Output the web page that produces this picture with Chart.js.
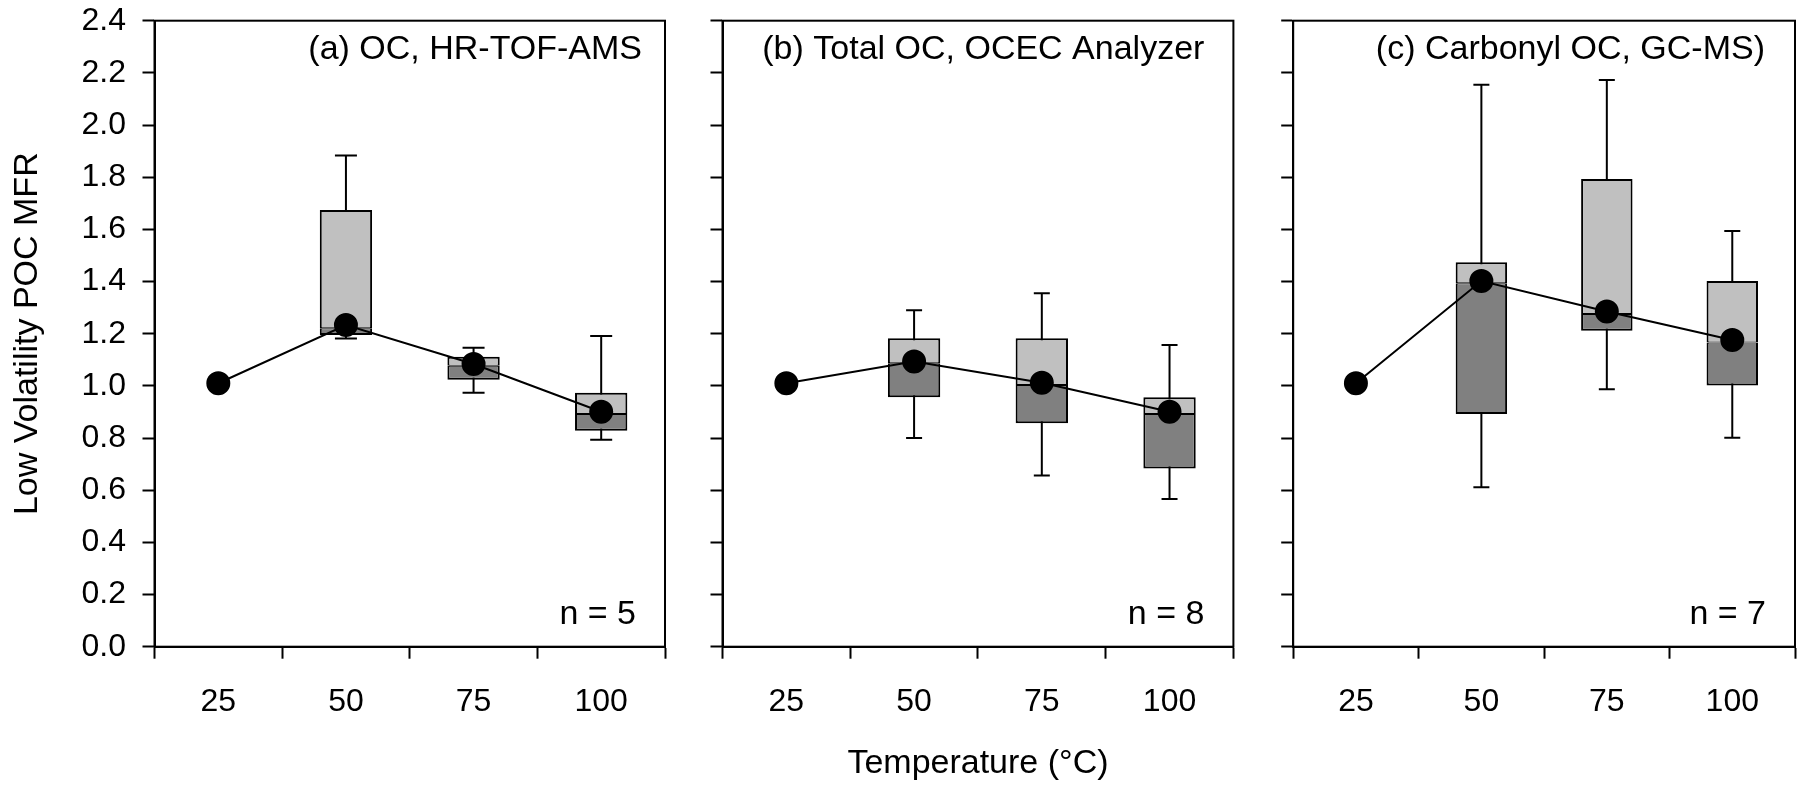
<!DOCTYPE html>
<html>
<head>
<meta charset="utf-8">
<title>Low Volatility POC MFR</title>
<script src="https://cdn.jsdelivr.net/npm/chart.js@4.4.1/dist/chart.umd.min.js"></script>
<style>
  body { margin: 0; background: #fff; }
  #wrap { position: relative; width: 1808px; height: 786px; }
  #wrap canvas { position: absolute; top: 0; }
</style>
</head>
<body>
<div id="wrap">
  <canvas id="panelA" width="694" height="786" style="left:0px"></canvas>
  <canvas id="panelB" width="568" height="786" style="left:694px"></canvas>
  <canvas id="panelC" width="546" height="786" style="left:1262px"></canvas>
</div>
<script>
const temps = ['25', '50', '75', '100'];
const panelTitles = ['(a) OC, HR-TOF-AMS', '(b) Total OC, OCEC Analyzer', '(c) Carbonyl OC, GC-MS)'];
const sampleSizes = ['n = 5', 'n = 8', 'n = 7'];

// (a) OC, HR-TOF-AMS
const amsMean = [1.01, 1.233, 1.084, 0.901];
const amsMin = [null, 1.182, 0.974, 0.793];
const amsQ1 = [null, 1.195, 1.023, 0.828];
const amsMedian = [null, 1.221, 1.077, 0.892];
const amsQ3 = [null, 1.674, 1.112, 0.974];
const amsMax = [null, 1.883, 1.146, 1.191];

// (b) Total OC, OCEC analyzer
const ocecMean = [1.01, 1.093, 1.012, 0.901];
const ocecMin = [null, 0.80, 0.656, 0.566];
const ocecQ1 = [null, 0.956, 0.857, 0.683];
const ocecMedian = [null, 1.087, 1.003, 0.892];
const ocecQ3 = [null, 1.183, 1.183, 0.956];
const ocecMax = [null, 1.29, 1.355, 1.157];

// (c) Carbonyl OC, GC-MS
const gcmsMean = [1.01, 1.402, 1.285, 1.176];
const gcmsMin = [null, 0.611, 0.987, 0.801];
const gcmsQ1 = [null, 0.892, 1.211, 1.001];
const gcmsMedian = [null, 1.393, 1.276, 1.166];
const gcmsQ3 = [null, 1.474, 1.793, 1.402];
const gcmsMax = [null, 2.154, 2.173, 1.594];

Chart.defaults.font.family = '"Liberation Sans", Arial, sans-serif';
Chart.defaults.color = '#000';

// marco del panel + textos dentro del área
const panelText = {
    id: 'panelText',
    afterDraw(chart, args, opts) {
        const {ctx, chartArea: a} = chart;
        ctx.save();
        ctx.strokeStyle = '#000';
        ctx.lineWidth = 2;
        ctx.strokeRect(a.left, a.top, a.right - a.left, a.bottom - a.top);
        ctx.fillStyle = '#000';
        ctx.font = '34px "Liberation Sans", Arial, sans-serif';
        ctx.textAlign = 'right';
        ctx.textBaseline = 'alphabetic';
        ctx.fillText(opts.title, a.right - opts.titleGap, a.top + 38.6);
        ctx.fillText(opts.n, a.right - 29, a.bottom - 22.4);
        ctx.restore();
    }
};

function boxDatasets(mean, min, q1, med, q3, max, capRadius) {
    const sets = [];
    sets.push({
        type: 'line',
        data: mean,
        borderColor: '#000',
        borderWidth: 2,
        pointRadius: 11,
        pointHoverRadius: 11,
        pointBackgroundColor: '#000',
        pointBorderColor: '#000',
        order: 0
    });
    sets.push({
        type: 'bar',
        data: temps.map((t, i) => q3[i] == null ? null : [med[i], q3[i]]),
        backgroundColor: '#c0c0c0',
        borderColor: '#000',
        borderWidth: {top: 2, left: 2, right: 2, bottom: 1},
        borderSkipped: false,
        grouped: false,
        barPercentage: 0.41,
        categoryPercentage: 1,
        order: 1
    });
    sets.push({
        type: 'bar',
        data: temps.map((t, i) => q1[i] == null ? null : [q1[i], med[i]]),
        backgroundColor: '#808080',
        borderColor: '#000',
        borderWidth: {top: 1, left: 2, right: 2, bottom: 2},
        borderSkipped: false,
        grouped: false,
        barPercentage: 0.41,
        categoryPercentage: 1,
        order: 2
    });
    const caps = [];
    temps.forEach((t, i) => {
        if (min[i] == null) return;
        sets.push({
            type: 'line',
            data: [{x: t, y: min[i]}, {x: t, y: max[i]}],
            borderColor: '#000',
            borderWidth: 2,
            pointRadius: 0,
            order: 3
        });
        caps.push({x: t, y: min[i]}, {x: t, y: max[i]});
    });
    sets.push({
        type: 'line',
        data: caps,
        showLine: false,
        pointStyle: 'line',
        pointRadius: capRadius,
        pointHoverRadius: capRadius,
        pointBorderColor: '#000',
        pointBorderWidth: 2,
        order: 3
    });
    return sets;
}

function makePanel(id, idx, sets, cfg) {
    return new Chart(document.getElementById(id), {
        type: 'bar',
        data: {labels: temps, datasets: sets},
        options: {
            responsive: false,
            animation: false,
            events: [],
            layout: {padding: {left: 0, right: cfg.padRight, top: 20.7, bottom: 0}},
            plugins: {
                legend: {display: false},
                tooltip: {enabled: false},
                panelText: {title: panelTitles[idx], n: sampleSizes[idx], titleGap: cfg.titleGap}
            },
            scales: {
                x: {
                    type: 'category',
                    offset: true,
                    grid: {display: true, offset: true, drawOnChartArea: false, drawTicks: true,
                        tickLength: 12, tickWidth: 2, tickColor: '#000'},
                    border: {display: true, color: '#000', width: 2},
                    ticks: {color: '#000', font: {size: 32}, padding: 24, maxRotation: 0},
                    title: {display: cfg.xTitle, text: 'Temperature (°C)', color: '#000',
                        font: {size: 34}, padding: {top: 0, bottom: 2}},
                    afterFit: s => { s.height = 139.3; }
                },
                y: {
                    min: 0,
                    max: 2.4,
                    grid: {drawOnChartArea: false, drawTicks: true, tickLength: 12, tickWidth: 2, tickColor: '#000'},
                    border: {display: true, color: '#000', width: 2},
                    ticks: {display: cfg.yLabels, stepSize: 0.2, color: '#000', font: {size: 32}, padding: 16.5,
                        callback: v => Number(v).toFixed(1)},
                    title: {display: cfg.yLabels, text: 'Low Volatility POC MFR', color: '#000',
                        font: {size: 34}, padding: {top: 7, bottom: 0}},
                    afterFit: s => {
                        s.width = cfg.yWidth;
                        s.paddingTop = 0;
                        s.paddingBottom = 0;
                    }
                }
            }
        },
        plugins: [panelText]
    });
}

makePanel('panelA', 0, boxDatasets(amsMean, amsMin, amsQ1, amsMedian, amsQ3, amsMax, 11),
    {padRight: 29, yWidth: 154.5, yLabels: true, xTitle: false, titleGap: 23});
makePanel('panelB', 1, boxDatasets(ocecMean, ocecMin, ocecQ1, ocecMedian, ocecQ3, ocecMax, 8),
    {padRight: 28.6, yWidth: 28.5, yLabels: false, xTitle: true, titleGap: 29});
makePanel('panelC', 2, boxDatasets(gcmsMean, gcmsMin, gcmsQ1, gcmsMedian, gcmsQ3, gcmsMax, 8),
    {padRight: 4.5, yWidth: 31.2, yLabels: false, xTitle: false, titleGap: 30});
</script>
</body>
</html>
